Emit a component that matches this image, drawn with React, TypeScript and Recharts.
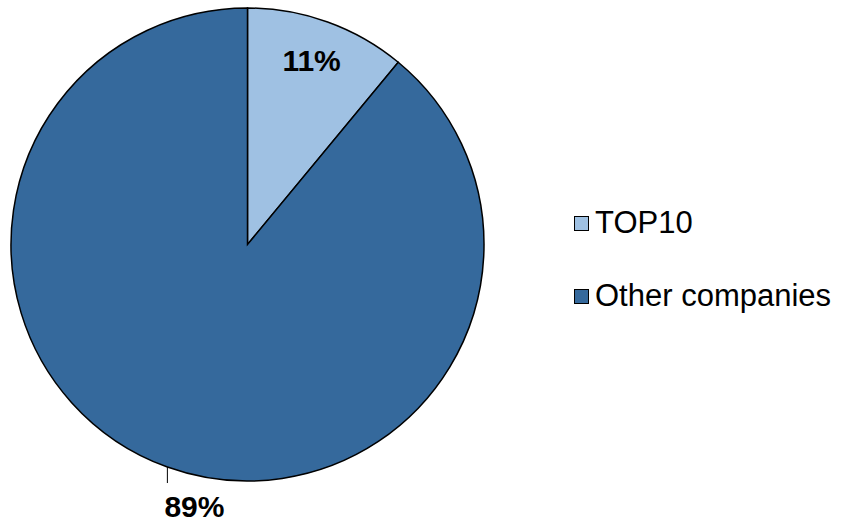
import { PieChart, Pie, Cell, Legend } from "recharts";

const categories = ["TOP10", "Other companies"];
const shares = [11, 89];
const colors = ["#9FC1E3", "#35699C"];

const data = categories.map((name, i) => ({ name, value: shares[i] }));

const RADIAN = Math.PI / 180;
const FONT = "'Liberation Sans', Arial, sans-serif";

type LabelProps = {
  cx?: number;
  cy?: number;
  midAngle?: number;
  outerRadius?: number;
  percent?: number;
  index?: number;
};

function SliceLabel({ cx = 0, cy = 0, midAngle = 0, outerRadius = 0, percent = 0, index }: LabelProps) {
  const text = `${Math.round(percent * 100)}%`;
  const cos = Math.cos(-midAngle * RADIAN);
  const sin = Math.sin(-midAngle * RADIAN);

  // small slice: label inside
  if (index === 0) {
    const r = outerRadius * 0.8;
    return (
      <text
        x={cx + r * cos}
        y={cy + r * sin - 6}
        textAnchor="middle"
        dominantBaseline="central"
        fill="#000"
        fontFamily={FONT}
        fontWeight="bold"
        fontSize={30}
      >
        {text}
      </text>
    );
  }

  // big slice: short vertical tick below the edge, label under it
  const x = cx + outerRadius * cos;
  const y = cy + outerRadius * sin;
  return (
    <g>
      <line x1={x} y1={y} x2={x} y2={y + 16} stroke="#000" strokeWidth={1} />
      <text x={x - 3} y={y + 50} textAnchor="start" fill="#000" fontFamily={FONT} fontWeight="bold" fontSize={30}>
        {text}
      </text>
    </g>
  );
}

function LegendBox() {
  return (
    <div style={{ fontFamily: FONT, fontSize: 31, color: "#000" }}>
      {data.map((d, i) => (
        <div key={d.name} style={{ display: "flex", alignItems: "center", height: 36, marginBottom: i === 0 ? 37 : 0 }}>
          <span
            style={{
              display: "inline-block",
              width: 13,
              height: 13,
              background: colors[i],
              border: "1.5px solid #000",
              marginRight: 6,
            }}
          />
          <span>{d.name}</span>
        </div>
      ))}
    </div>
  );
}

export default function App() {
  return (
    <div style={{ position: "absolute", left: 0, top: 0, width: 845, height: 523, background: "#fff" }}>
      <PieChart width={845} height={523} margin={{ top: 0, right: 0, bottom: 0, left: 0 }}>
        <Pie
          data={data}
          dataKey="value"
          nameKey="name"
          cx={247.5}
          cy={244.5}
          outerRadius={236.5}
          startAngle={90}
          endAngle={-270}
          stroke="#000"
          strokeWidth={1.5}
          label={SliceLabel}
          labelLine={false}
          isAnimationActive={false}
        >
          {data.map((d, i) => (
            <Cell key={d.name} fill={colors[i]} />
          ))}
        </Pie>
        <Legend content={<LegendBox />} wrapperStyle={{ position: "absolute", left: 574, top: 205, width: 271 }} />
      </PieChart>
    </div>
  );
}
